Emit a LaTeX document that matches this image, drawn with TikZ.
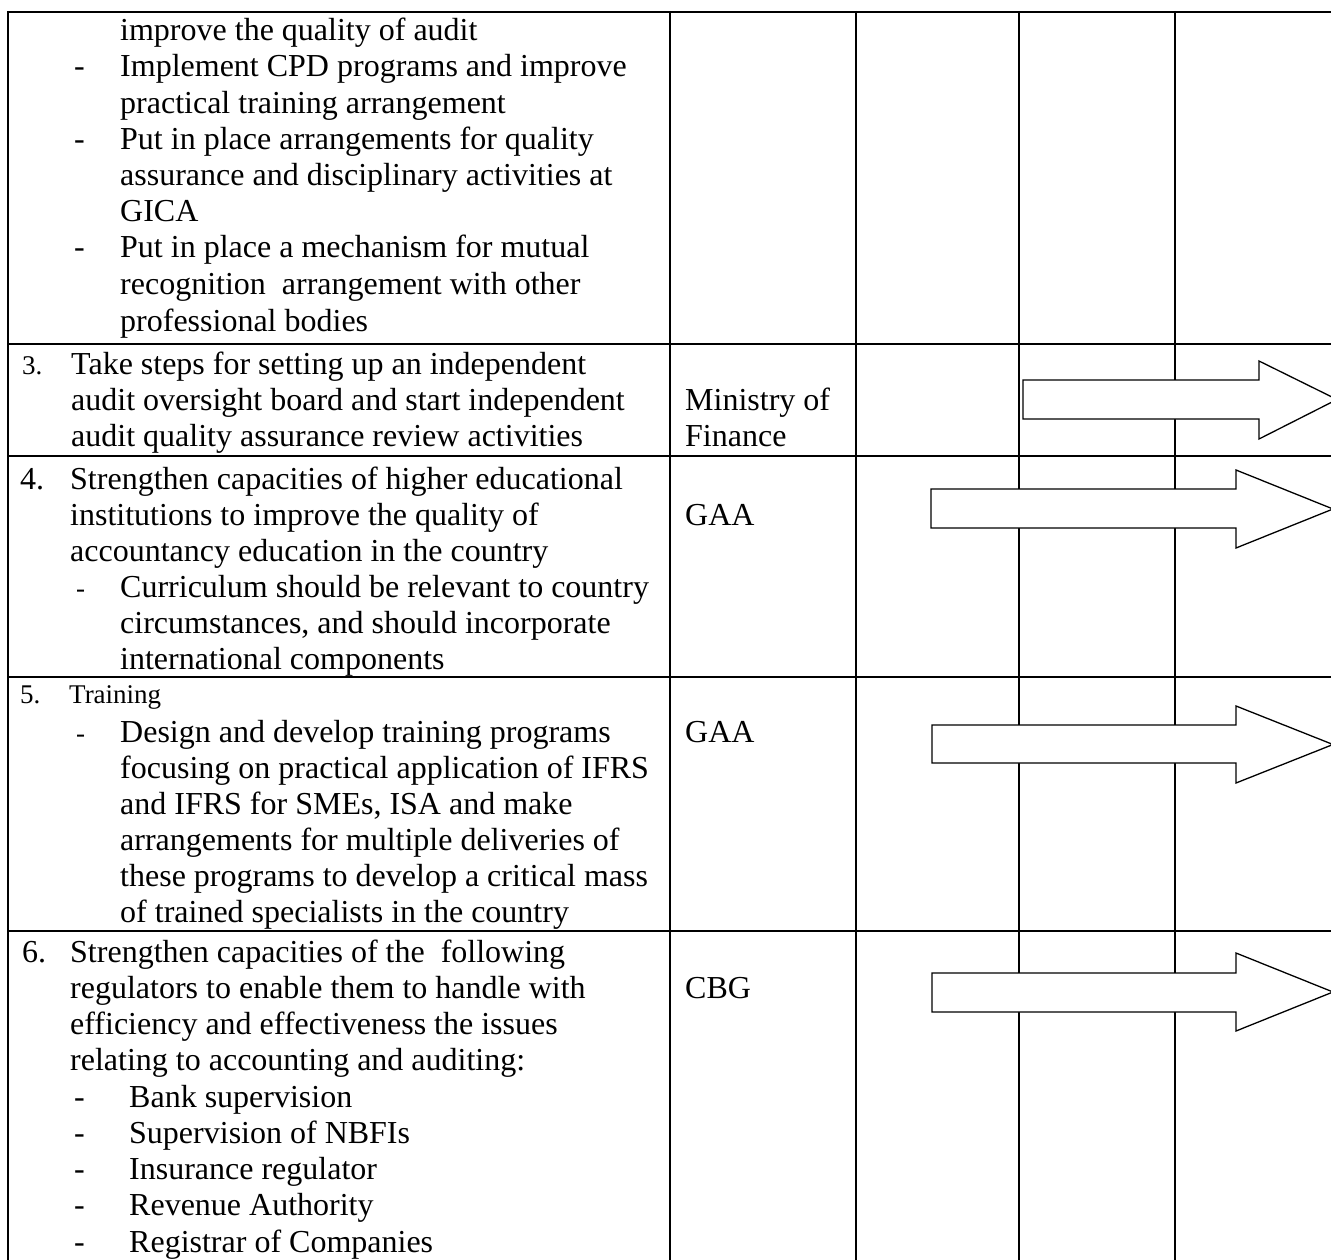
\documentclass[tikz,border=0pt]{standalone}
\usepackage{fontspec}
\setmainfont{Liberation Serif}
\newcommand\TL[5][txt]{\node[#1] (#2) at (#3,#4) {#5};}
\begin{document}
\begin{tikzpicture}[x=1pt,y=-1pt,
  txt/.style={anchor=base west, inner sep=0pt, font=\fontsize{32}{36}\selectfont},
  sm/.style={anchor=base west, inner sep=0pt, font=\fontsize{27}{30}\selectfont},
  gridline/.style={line width=2pt},
  arr/.style={draw, line width=1.3pt, fill=white, line join=miter}]
\useasboundingbox (0,0) rectangle (1331,1260);
\clip (0,0) rectangle (1331,1260);
% grid
\foreach \yy in {12,344,456,677,931} \draw[gridline] (7,\yy) -- (1345,\yy);
\foreach \xx in {8,670,856,1019,1175} \draw[gridline] (\xx,11) -- (\xx,1275);
% arrows
\draw[arr] (1023,380) -- (1259,380) -- (1259,361) -- (1337,399.5) -- (1259,439) -- (1259,419) -- (1023,419) -- cycle;
\draw[arr] (931,489) -- (1236,489) -- (1236,470) -- (1333,509) -- (1236,548) -- (1236,528) -- (931,528) -- cycle;
\draw[arr] (932,725) -- (1236,725) -- (1236,706) -- (1333,744.5) -- (1236,783) -- (1236,763) -- (932,763) -- cycle;
\draw[arr] (932,973) -- (1236,973) -- (1236,953) -- (1333,992) -- (1236,1031) -- (1236,1012) -- (932,1012) -- cycle;
% row 1
\TL{a0}{120}{41}{improve the quality of audit}
\TL{ad1}{74}{77}{-}
\TL{a1}{120}{77}{Implement CPD programs and improve}
\TL{a2}{120}{113.5}{practical training arrangement}
\TL{ad3}{74}{149.5}{-}
\TL{a3}{120}{149.5}{Put in place arrangements for quality}
\TL{a4}{120}{186}{assurance and disciplinary activities at}
\TL{a5}{120}{222}{GICA}
\TL{ad6}{74}{258}{-}
\TL{a6}{120}{258}{Put in place a mechanism for mutual}
\TL{a7}{120}{294.5}{recognition\ \ arrangement with other}
\TL{a8}{120}{331}{professional bodies}
% row 3
\TL[sm]{b0n}{22}{374}{3.}
\TL{b0}{71}{374}{Take steps for setting up an independent}
\TL{b1}{71}{410}{audit oversight board and start independent}
\TL{b2}{71}{446}{audit quality assurance review activities}
\TL{b3}{685}{410}{Ministry of}
\TL{b4}{685}{446}{Finance}
% row 4
\TL{c0n}{20}{489}{4.}
\TL{c0}{70}{489}{Strengthen capacities of higher educational}
\TL{c1}{70}{525}{institutions to improve the quality of}
\TL{c2}{70}{561}{accountancy education in the country}
\TL[sm]{cd3}{76}{597}{-}
\TL{c3}{120}{597}{Curriculum should be relevant to country}
\TL{c4}{120}{633}{circumstances, and should incorporate}
\TL{c5}{120}{669}{international components}
\TL{c6}{685}{525}{GAA}
% row 5
\TL[sm]{d0n}{20}{703}{5.}
\TL[sm]{d0}{69}{703}{Training}
\TL[sm]{dd1}{76}{742}{-}
\TL{d1}{120}{742}{Design and develop training programs}
\TL{d2}{120}{778}{focusing on practical application of IFRS}
\TL{d3}{120}{814}{and IFRS for SMEs, ISA and make}
\TL{d4}{120}{850}{arrangements for multiple deliveries of}
\TL{d5}{120}{886}{these programs to develop a critical mass}
\TL{d6}{120}{922}{of trained specialists in the country}
\TL{d7}{685}{742}{GAA}
% row 6
\TL{e0n}{22}{962}{6.}
\TL{e0}{70}{962}{Strengthen capacities of the\ \ following}
\TL{e1}{70}{998}{regulators to enable them to handle with}
\TL{e2}{70}{1034}{efficiency and effectiveness the issues}
\TL{e3}{70}{1070.5}{relating to accounting and auditing:}
\TL{ed4}{74}{1107}{-}
\TL{e4}{129}{1107}{Bank supervision}
\TL{ed5}{74}{1143}{-}
\TL{e5}{129}{1143}{Supervision of NBFIs}
\TL{ed6}{74}{1179}{-}
\TL{e6}{129}{1179}{Insurance regulator}
\TL{ed7}{74}{1215.5}{-}
\TL{e7}{129}{1215.5}{Revenue Authority}
\TL{ed8}{74}{1252}{-}
\TL{e8}{129}{1252}{Registrar of Companies}
\TL{e9}{685}{998}{CBG}
\end{tikzpicture}
\end{document}
